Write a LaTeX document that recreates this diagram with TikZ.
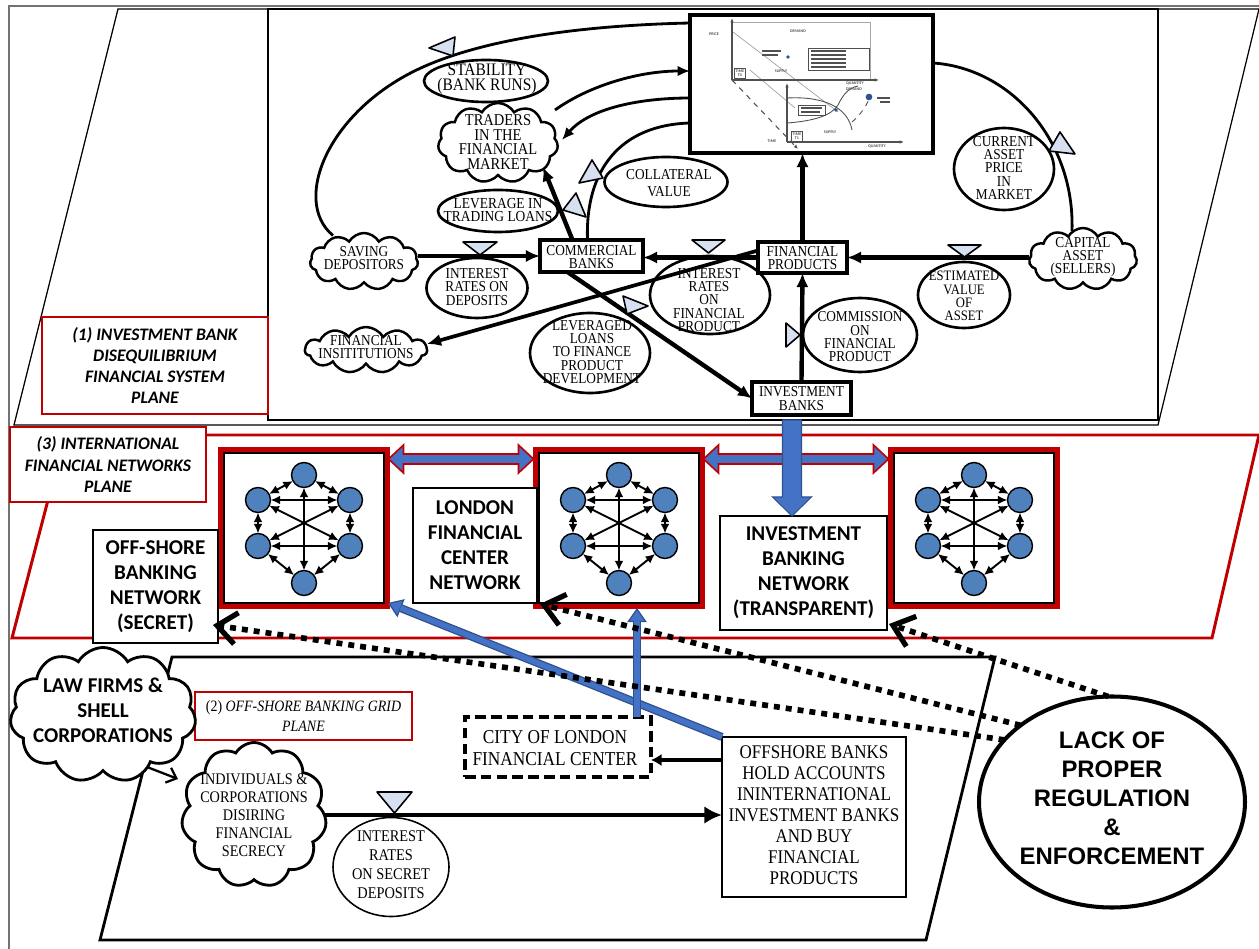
\documentclass[tikz,border=0pt]{standalone}
\usepackage{fontspec}
\setmainfont{Liberation Serif}[FakeStretch=0.88]
\newfontfamily\carl{Carlito}
\newfontfamily\lsans{Liberation Sans}
\usetikzlibrary{shapes.geometric,shapes.symbols,arrows.meta,calc}

\definecolor{planered}{RGB}{192,0,0}
\definecolor{dotblue}{RGB}{79,129,189}
\definecolor{arrblue}{RGB}{68,114,196}
\definecolor{arrblued}{RGB}{47,82,143}
\definecolor{valvec}{RGB}{214,224,240}
\definecolor{chartgray}{RGB}{80,80,80}

\newcommand{\toptxt}{\fontsize{8.6}{7.6}\selectfont}
\newcommand{\planetxt}{\carl\bfseries\itshape\fontsize{10}{12}\selectfont}
\newcommand{\nettxt}{\carl\bfseries\fontsize{12}{14.2}\selectfont}
\newcommand{\charttxt}{\carl\bfseries\fontsize{2.3}{2.6}\selectfont}

\tikzset{
  every node/.style={inner sep=0pt, outer sep=0pt},
  wh/.style 2 args={minimum width=#1*0.02cm, minimum height=#2*0.02cm},
  ell/.style={ellipse, draw, line width=1.5pt, fill=white},
  cld/.style={cloud, cloud puffs=11, cloud puff arc=120, cloud ignores aspect, draw, line width=1.4pt, fill=white},
  sq/.style={rectangle, draw, line width=1.9pt, fill=white},
  txt/.style={align=center, font=\toptxt},
  flow/.style={line width=2.5pt, -{Latex[length=8pt,width=7pt]}},
  loopline/.style={line width=1.6pt},
  looparrow/.style={line width=1.6pt, -{Latex[length=7pt,width=6pt]}},
  valve/.style={draw, line width=0.9pt, fill=valvec, line join=round},
  plbl/.style={rectangle, draw=planered, line width=0.9pt, fill=white, align=center, font=\planetxt},
  netbox/.style={rectangle, draw, line width=1.1pt, fill=white, wh={160}{150}},
  netred/.style={draw=planered, line width=2.8pt},
  netdot/.style={circle, draw, line width=0.8pt, fill=dotblue, minimum size=0.5cm},
  netedge/.style={line width=1.1pt, {Latex[length=5.5pt,width=5pt]}-{Latex[length=5.5pt,width=5pt]}},
  netlbl/.style={rectangle, draw, line width=0.8pt, fill=white, align=center, font=\nettxt},
  fatarrow/.style={fill=arrblue, draw=planered, line width=0.9pt, line join=miter},
  downarrow/.style={fill=arrblue, draw=arrblued, line width=0.6pt},
  bluel/.style={line width=4.6pt, draw=arrblued, -{Triangle[length=8pt,width=11pt,line width=0.7pt,fill=arrblue]}},
  bluein/.style={line width=3.1pt, draw=arrblue, shorten >=7.6pt},
  dotl/.style={line width=3.2pt, dash pattern=on 3.4pt off 3.4pt, -{Straight Barb[length=11pt,width=18pt,line width=3pt]}},
  chartax/.style={line width=0.6pt, chartgray, -{Latex[length=2.5pt,width=2pt]}},
  ctxt/.style={font=\charttxt, text=chartgray, align=center},
}

% six-node network drawn inside a network box
\newcommand{\netgraph}[1]{%
  \begin{scope}[shift={(#1.center)}]
    \node[netdot] (#1-t)  at (0,-53) {};
    \node[netdot] (#1-ul) at (-46,-28) {};
    \node[netdot] (#1-ur) at (46,-28) {};
    \node[netdot] (#1-ll) at (-46,18) {};
    \node[netdot] (#1-lr) at (46,18) {};
    \node[netdot] (#1-b)  at (0,55) {};
  \end{scope}
  \foreach \pa/\pb in {t/ul,t/ur,ul/ur,ll/lr,ul/ll,ur/lr,ll/b,lr/b,t/b,ul/lr,ur/ll}
    \draw[netedge] (#1-\pa) -- (#1-\pb);
}

% wide two-headed arrow between two points on one level
\newcommand{\fatdouble}[2]{%
  \filldraw[fatarrow] (#1) -- ++(15,-14) -- ++(0,9) -- ($(#2)+(-15,-5)$) -- ++(0,-9) -- (#2)
    -- ++(-15,14) -- ++(0,-9) -- ($(#1)+(15,5)$) -- ++(0,9) -- cycle;}

\begin{document}
\begin{tikzpicture}[x=0.02cm, y=-0.02cm]
\useasboundingbox (0,0) rectangle (1259,949);
\fill[white] (0,0) rectangle (1259,949);

% page frame
\draw[line width=0.6pt, black!55] (1259,6) -- (9,6) -- (9,949);

% ---------- planes ----------
\draw[line width=0.7pt] (118,9) -- (1259,9) -- (1158,425) -- (14,425) -- cycle;
\draw[line width=1.2pt, fill=white] (268,9) rectangle (1158,420);
\draw[planered, line width=1.7pt, line join=miter] (65,435) -- (1259,435) -- (1212,638) -- (12,638) -- cycle;
\draw[line width=1.6pt] (172,657) -- (995,657) -- (926,940) -- (100,940) -- cycle;

\node[plbl, wh={226}{97}] (p1lbl) at (155,365.5) {(1) INVESTMENT BANK\\DISEQUILIBRIUM\\FINANCIAL SYSTEM\\PLANE};
\node[plbl, wh={196}{75}] (p3lbl) at (108,464.5) {(3) INTERNATIONAL\\FINANCIAL NETWORKS\\PLANE};
\node[plbl, wh={217}{48}, line width=1.4pt, font=\fontsize{9}{11}\selectfont\itshape] (p2lbl) at (303.5,716) {\textup{(2)} OFF-SHORE BANKING GRID\\PLANE};

% ---------- supply / demand chart ----------
\node[rectangle, draw, line width=2.3pt, fill=white, wh={243}{138}] (chart) at (811.5,84) {};
\draw[black!35, line width=0.4pt] (732,22) rectangle (870,80);
\draw[black!40, line width=0.35pt] (733,32) -- (838,112);
\draw[black!40, line width=0.35pt] (750,70) -- (795,108);
\draw[chartax] (732,80) -- (732,18);
\draw[chartax] (732,80) -- (879,80);
\draw[chartax, dashed] (732,80) -- (798,149);
\draw[chartax] (787,142) -- (787,83);
\draw[chartax] (787,142) -- (904,142);
\draw[chartgray, line width=0.5pt] (787,98) .. controls (825,96) and (848,108) .. (852,130);
\draw[chartgray, line width=0.5pt] (787,123) .. controls (815,121) and (832,115) .. (838,105) .. controls (843,95) and (848,88) .. (858,86);
\draw[chartgray, line width=0.5pt, dashed] (852,122) .. controls (860,115) and (866,107) .. (869,99);
\fill[arrblued] (836,110) circle (1.1pt);
\fill[arrblued] (869,97) circle (1.9pt);
\fill[arrblued] (788,57) circle (1.1pt);
\draw[chartgray, line width=0.4pt] (808,48) rectangle (869,70);
\foreach \yy in {51,55,59,63,67} \draw[chartgray, line width=0.7pt] (811,\yy) -- (846,\yy);
\draw[chartgray, line width=0.7pt] (762,51) -- (781,51) (762,55) -- (778,55);
\draw[chartgray, line width=0.3pt] (798,105) rectangle (825,115);
\draw[chartgray, line width=0.7pt] (801,108) -- (822,108) (801,112) -- (820,112);
\draw[chartgray, line width=0.7pt] (877,98) -- (890,98) (880,102) -- (890,102);
\node[ctxt] (c-price) at (714,34) {PRICE};
\node[ctxt] (c-dem1) at (798,31) {DEMAND};
\node[ctxt] (c-sup1) at (781,71) {SUPPLY};
\node[ctxt, draw=chartgray, line width=0.3pt, inner sep=0.7pt] (c-t0) at (740,73) {TIME\\T0};
\node[ctxt] (c-q1) at (855,83) {QUANTITY};
\node[ctxt] (c-dem2) at (854,89) {DEMAND};
\node[ctxt] (c-sup2) at (830,132) {SUPPLY};
\node[ctxt] (c-time) at (772,141) {TIME};
\node[ctxt, draw=chartgray, line width=0.3pt, inner sep=0.7pt] (c-t1) at (797,136) {TIME\\T1};
\node[ctxt] (c-q2) at (877,146) {QUANTITY};

% ---------- plane 1 shapes ----------
\node[ell, wh={124}{42}] (stab) at (486,81) {};
\node[cld, wh={120}{80}] (traders) at (498,143) {};
\node[ell, wh={120}{42}] (levtr) at (498,211) {};
\node[ell, wh={123}{50}] (coll) at (666,182) {};
\node[cld, wh={108}{57}] (saving) at (364,261.5) {};
\node[ell, wh={101}{60}] (irdep) at (477,288) {};
\node[sq, wh={103}{32}] (comm) at (591.5,256) {};
\node[cld, wh={122}{46}] (finst) at (366,350) {};
\node[ell, wh={120}{80}] (levln) at (590,353) {};
\node[ell, wh={120}{78}] (irfp) at (710,295) {};
\node[sq, wh={89}{31}] (fp) at (802.5,257.5) {};
\node[ell, wh={114}{74}] (comfp) at (860,335) {};
\node[sq, wh={99}{33}] (invb) at (801.5,398.5) {};
\node[ell, wh={92}{66}] (estv) at (964,295) {};
\node[ell, wh={100}{82}] (curr) at (1004,169) {};
\node[cld, wh={108}{62}] (cap) at (1083,259) {};

\node[txt, font=\fontsize{10}{9}\selectfont] (stab-t) at (487,79) {STABILITY\\(BANK RUNS)};
\node[txt, font=\fontsize{9.4}{8.4}\selectfont] (traders-t) at (498,142) {TRADERS\\IN THE\\FINANCIAL\\MARKET};
\node[txt, font=\fontsize{8.7}{7.7}\selectfont] (levtr-t) at (498,210) {LEVERAGE IN\\TRADING LOANS};
\node[txt] (coll-t) at (669,183) {COLLATERAL\\[2.5pt]VALUE};
\node[txt] (saving-t) at (364,258) {SAVING\\DEPOSITORS};
\node[txt] (irdep-t) at (477,287) {INTEREST\\RATES ON\\DEPOSITS};
\node[txt] (comm-t) at (591.5,257) {COMMERCIAL\\BANKS};
\node[txt] (finst-t) at (366,347) {FINANCIAL\\INSITITUTIONS};
\node[txt] (levln-t) at (592,352) {LEVERAGED\\LOANS\\TO FINANCE\\PRODUCT\\DEVELOPMENT};
\node[txt] (irfp-t) at (709,300) {INTEREST\\RATES\\ON\\FINANCIAL\\PRODUCT};
\node[txt] (fp-t) at (802.5,258) {FINANCIAL\\PRODUCTS};
\node[txt] (comfp-t) at (860,337) {COMMISSION\\ON\\FINANCIAL\\PRODUCT};
\node[txt] (invb-t) at (801.5,398.5) {INVESTMENT\\BANKS};
\node[txt, font=\fontsize{8.2}{7.6}\selectfont] (estv-t) at (964,296) {ESTIMATED\\VALUE\\OF\\ASSET};
\node[txt] (curr-t) at (1004,168) {CURRENT\\ASSET\\PRICE\\IN\\MARKET};
\node[txt] (cap-t) at (1083,257) {CAPITAL\\ASSET\\(SELLERS)};

% ---------- plane 1 connectors ----------
\draw[loopline] ($(chart.north west)+(0,8)$) .. controls (600,25) and (500,35) .. (430,64)
   .. controls (330,105) and (290,200) .. ($(saving.center)+(-31,-26)$);
\draw[looparrow] ($(traders.center)+(57,-33)$) .. controls (590,85) and (640,71) .. ($(chart.west)+(0,-13)$);
\draw[looparrow] ($(chart.west)+(0,14)$) .. controls (640,98) and (590,108) .. ($(traders.center)+(64,-3)$);
\draw[loopline] ($(chart.west)+(0,39)$) .. controls (620,125) and (585,170) .. ($(comm.north)+(-4,0)$);
\draw[loopline] ($(chart.east)+(0,-21)$) .. controls (1010,68) and (1075,140) .. ($(cap.center)+(-11,-28)$);

\draw[flow] (comm.west -| saving.east) -- (comm.west);
\draw[flow] (fp.west) -- (fp.west -| comm.east);
\draw[flow] (fp.east -| cap.west) -- (fp.east);
\draw[flow] (invb.north) -- (fp.south);
\draw[flow] (fp.north) -- (fp.north |- chart.south);
\draw[flow] ($(comm.north)+(-19,0)$) -- ($(traders.center)+(45,24)$);
\draw[flow] ($(comm.south)+(-24,0)$) -- (invb.west);
\draw[flow, line width=2.1pt] ($(fp.west)+(0,-7)$) -- ($(finst.center)+(61,-6)$);

% valves
\filldraw[valve] (429,48) -- (455,37) -- (453,56) -- cycle;
\filldraw[valve] (563,210) -- (576,193) -- (586,217) -- cycle;
\filldraw[valve] (579,183) -- (592,160) -- (603,178) -- cycle;
\filldraw[valve] (463,242) -- (497,242) -- (480,255) -- cycle;
\filldraw[valve] (692,240) -- (725,240) -- (708.5,253) -- cycle;
\filldraw[valve] (623,296) -- (627,314) -- (648,306) -- cycle;
\filldraw[valve] (786,323) -- (786,347) -- (800,335) -- cycle;
\filldraw[valve] (948,245) -- (981,245) -- (964.5,257) -- cycle;
\filldraw[valve] (1060,132) -- (1049,151) -- (1075,154) -- cycle;

% ---------- plane 3: networks ----------
\node[netbox] (netA) at (304,528) {};
\node[netbox] (netB) at (619,528) {};
\node[netbox] (netC) at (974,528) {};
\foreach \nb in {netA,netB,netC}
  \draw[netred] ([shift={(-3.5,-3.5)}]\nb.north west) rectangle ([shift={(3.5,3.5)}]\nb.south east);
\netgraph{netA}
\netgraph{netB}
\netgraph{netC}

\coordinate (abL) at ($(netA.north east)+(4.5,6)$);
\coordinate (abR) at ($(netB.north west)+(-5.5,6)$);
\coordinate (bcL) at ($(netB.north east)+(4.5,6)$);
\coordinate (bcR) at ($(netC.north west)+(-5.5,6)$);
\fatdouble{abL}{abR}
\fatdouble{bcL}{bcR}

\node[netlbl, wh={124}{115}] (london) at (475,545.5) {LONDON\\FINANCIAL\\CENTER\\NETWORK};
\node[netlbl, wh={125}{113}] (offnet) at (155.5,586.5) {OFF-SHORE\\BANKING\\NETWORK\\(SECRET)};
\node[netlbl, wh={167}{114}] (ibn) at (803.5,573) {INVESTMENT\\BANKING\\NETWORK\\(TRANSPARENT)};

\coordinate (dnT) at ($(invb.south)+(-9.5,5)$);
\coordinate (dnB) at (dnT |- ibn.north);
\filldraw[downarrow] ($(dnT)+(-9.5,0)$) -- ($(dnT)+(9.5,0)$) -- ($(dnB)+(9.5,-19)$) -- ($(dnB)+(19.5,-19)$)
   -- (dnB) -- ($(dnB)+(-19.5,-19)$) -- ($(dnB)+(-9.5,-19)$) -- cycle;

% ---------- plane 2: off-shore grid ----------
\node[cld, wh={186}{135}, line width=1.6pt] (law) at (103,715) {};
\node[align=center, font=\nettxt] (law-t) at (103,710) {LAW FIRMS \&\\SHELL\\CORPORATIONS};
\node[cld, wh={145}{145}, line width=1.6pt] (indiv) at (254,815) {};
\node[align=center, font=\fontsize{9.2}{10.2}\selectfont] (indiv-t) at (254,815) {INDIVIDUALS \&\\CORPORATIONS\\DISIRING\\FINANCIAL\\SECRECY};
\node[ellipse, draw, line width=0.9pt, fill=white, wh={116}{99}] (irsec) at (391,867) {};
\node[align=center, font=\fontsize{9.3}{10.8}\selectfont] (irsec-t) at (391,865) {INTEREST\\RATES\\ON SECRET\\DEPOSITS};
\node[rectangle, draw, line width=2.3pt, dash pattern=on 6pt off 3pt, fill=white, wh={186}{60}] (city) at (558,747) {};
\node[align=center, font=\fontsize{11.2}{12.5}\selectfont] (city-t) at (555,748) {CITY OF LONDON\\FINANCIAL CENTER};
\node[rectangle, draw, line width=1.2pt, fill=white, wh={184}{160}] (obanks) at (814,817) {};
\node[align=center, font=\fontsize{11}{12}\selectfont] (obanks-t) at (814,815) {OFFSHORE BANKS\\HOLD ACCOUNTS\\ININTERNATIONAL\\INVESTMENT BANKS\\AND BUY\\FINANCIAL\\PRODUCTS};

\draw[line width=1.3pt, -{Straight Barb[length=5pt,width=9pt]}] ($(law.center)+(44,52)$) -- ($(indiv.center)+(-76,-36)$);
\draw[flow, -{Latex[length=10pt,width=10pt]}] (indiv.east) -- (indiv.east -| obanks.west);
\coordinate (obc) at ($(obanks.north west)+(0,23)$);
\draw[line width=2.3pt, -{Latex[length=6pt,width=7pt]}] (obc) -- (obc -| city.east);
\filldraw[valve] (377,792) -- (412,792) -- (394.5,813) -- cycle;

% blue links from the off-shore grid up to the networks
\coordinate (netAend) at ($(netA.south east)+(4,0)$);
\draw[bluel] (obanks.north west) -- (netAend);
\draw[bluein] (obanks.north west) -- (netAend);
\coordinate (cityTop) at ($(city.north)+(79,0)$);
\coordinate (netBend) at ($(cityTop |- netB.south)+(0,5)$);
\draw[bluel] (cityTop) -- (netBend);
\draw[bluein] (cityTop) -- (netBend);

% ---------- regulation ----------
\node[ellipse, draw, line width=2.3pt, fill=white, wh={266}{211}] (lack) at (1112,802) {};
\node[align=center, font=\lsans\bfseries\fontsize{13.6}{16.5}\selectfont] (lack-t) at (1112,798) {LACK OF\\PROPER\\REGULATION\\\&\\ENFORCEMENT};

\coordinate (offTip) at ($(offnet.south east)+(-5,-18)$);
\coordinate (lonTip) at ($(london.south east)+(3,1)$);
\coordinate (ibnTip) at ($(ibn.south east)+(2,-6)$);
\draw[dotl] (lack.150) -- (offTip);
\draw[dotl] (lack.140) -- (lonTip);
\draw[dotl] (lack.92) -- (ibnTip);
\end{tikzpicture}
\end{document}
